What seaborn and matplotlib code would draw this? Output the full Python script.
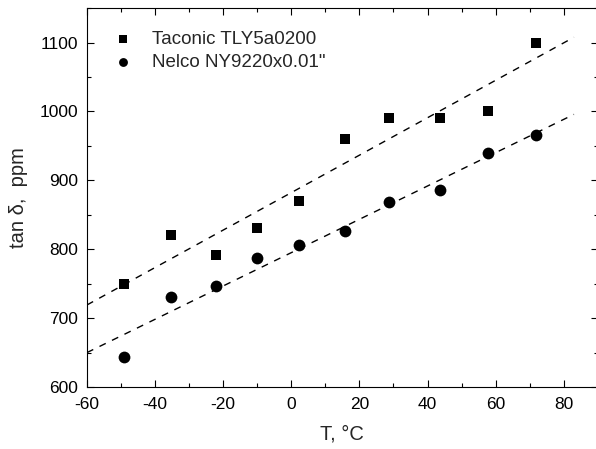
import numpy as np
import pandas as pd
import matplotlib
matplotlib.use("Agg")
import matplotlib.pyplot as plt
from matplotlib.ticker import MultipleLocator
import seaborn as sns

# Loss tangent vs. temperature for two laminate materials
temp_c = [-49.0, -35.3, -22.1, -10.2, 2.2, 15.8, 28.8, 43.7, 57.8, 71.8]
taconic_ppm = [750, 820, 791, 831, 870, 960, 990, 990, 1001, 1100]
nelco_ppm = [644, 730, 747, 788, 806, 827, 868, 886, 939, 966]
series_names = ["Taconic TLY5a0200", "Nelco NY9220x0.01\""]

sns.set_style("ticks")
plt.rcParams["font.family"] = ["Liberation Sans", "DejaVu Sans"]
plt.rcParams["axes.unicode_minus"] = False
plt.rcParams["xtick.direction"] = "in"
plt.rcParams["ytick.direction"] = "in"

df = pd.DataFrame({
    "T": temp_c * 2,
    "tan": taconic_ppm + nelco_ppm,
    "material": [series_names[0]] * len(temp_c) + [series_names[1]] * len(temp_c),
})

fig = plt.figure(figsize=(5.96, 4.49), dpi=100)
ax = fig.add_axes([0.146, 0.138, 0.857, 0.844])

sizes = {series_names[0]: 56, series_names[1]: 72}
markers = {series_names[0]: "s", series_names[1]: "o"}
for name in series_names:
    sub = df[df["material"] == name]
    sns.scatterplot(data=sub, x="T", y="tan", marker=markers[name], s=sizes[name],
                    color="black", edgecolor="black", linewidth=0, label=name,
                    ax=ax, zorder=3)

# Linear fits for each series, drawn as dashed lines
fit_x = np.array([-60.0, 83.0])
for vals in (taconic_ppm, nelco_ppm):
    k, b = np.polyfit(temp_c, vals, 1)
    ax.plot(fit_x, k * fit_x + b, color="black", lw=1.0,
            linestyle=(0, (5, 5)), zorder=2)

ax.set_xlim(-60, 90)
ax.set_ylim(600, 1150)
ax.xaxis.set_major_locator(MultipleLocator(20))
ax.xaxis.set_minor_locator(MultipleLocator(10))
ax.yaxis.set_major_locator(MultipleLocator(100))
ax.yaxis.set_minor_locator(MultipleLocator(50))
ax.set_xticks(np.arange(-60, 81, 20))
ax.tick_params(which="both", top=True, right=True, direction="in",
               width=0.8, labelsize=12.5, colors="black")
ax.tick_params(which="major", length=5)
ax.tick_params(which="minor", length=3)
ax.tick_params(axis="x", which="major", pad=7.5)
ax.tick_params(axis="y", which="major", pad=6.5)
for sp in ax.spines.values():
    sp.set_linewidth(0.8)
    sp.set_color("black")
    sp.set_visible(True)

ax.set_xlabel("T, °C", fontsize=14.5, labelpad=9)
ax.set_ylabel("tan δ,  ppm", fontsize=14.5, labelpad=8)

leg = ax.legend(loc="upper left", bbox_to_anchor=(0.017, 0.974), frameon=False,
                fontsize=13.5, markerscale=0.75, handletextpad=0.8,
                labelspacing=0.3, handlelength=1.5, borderaxespad=0.3)

fig.savefig("out.png", dpi=100)
